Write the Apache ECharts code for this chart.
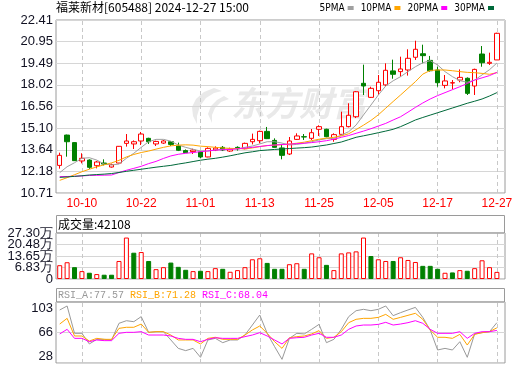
<!DOCTYPE html>
<html><head><meta charset="utf-8">
<script src="https://cdn.jsdelivr.net/npm/echarts@6/dist/echarts.min.js"></script>
<style>html,body{margin:0;padding:0;background:#fff}#c{width:520px;height:365px}</style>
</head><body><div id="c"></div>
<script>
const title = '福莱新材[605488] 2024-12-27 15:00';
const dates = ['09-30','10-08','10-09','10-10','10-11','10-14','10-15','10-16','10-17','10-18','10-21','10-22','10-23','10-24','10-25','10-28','10-29','10-30','10-31','11-01','11-04','11-05','11-06','11-07','11-08','11-11','11-12','11-13','11-14','11-15','11-18','11-19','11-20','11-21','11-22','11-25','11-26','11-27','11-28','11-29','12-02','12-03','12-04','12-05','12-06','12-09','12-10','12-11','12-12','12-13','12-16','12-17','12-18','12-19','12-20','12-23','12-24','12-25','12-26','12-27'];
const labelDates = ['10-10','10-22','11-01','11-13','11-25','12-05','12-17','12-27'];
const opens  = [12.58,14.63,14.12,12.88,12.94,12.56,12.74,12.47,12.74,14.07,14.03,14.23,14.41,14.03,14.09,14.18,13.89,13.58,13.51,13.49,13.15,13.62,13.80,13.55,13.80,13.71,14.18,14.25,14.88,14.27,13.76,13.35,14.34,14.52,14.41,15.02,15.02,14.34,14.68,15.20,15.87,18.13,17.18,17.63,18.02,18.97,18.92,19.03,19.89,20.13,19.68,19.03,17.99,18.15,18.35,18.47,17.95,20.11,19.48,19.71];
const closes = [13.26,14.18,12.90,13.06,12.45,12.81,12.67,12.63,13.87,14.23,14.18,14.70,14.18,14.20,14.23,14.00,13.60,13.44,13.62,13.15,13.73,13.75,13.62,13.68,13.70,14.07,14.34,14.88,14.39,13.80,13.26,14.23,14.57,14.50,14.79,15.20,14.52,14.66,15.20,15.97,17.56,17.95,17.79,18.20,19.01,18.74,19.10,19.82,20.43,20.00,18.98,18.17,18.29,18.17,18.53,17.45,19.07,19.52,19.55,21.51];
const lows   = [12.36,13.17,12.88,12.72,12.34,12.38,12.58,12.43,12.72,13.85,13.69,13.96,14.03,13.89,14.03,13.89,13.55,13.42,13.35,13.06,13.13,13.55,13.55,13.49,13.58,13.67,14.00,14.07,14.36,13.78,12.99,13.28,14.30,14.30,14.30,14.57,14.48,14.18,14.61,15.15,15.78,17.34,17.14,17.34,17.95,18.44,18.58,18.65,19.71,19.48,18.92,17.90,17.79,17.72,18.20,17.34,17.34,19.25,19.37,19.71];
const highs  = [13.44,14.66,14.14,13.40,12.99,12.88,12.99,12.70,13.89,14.70,14.27,14.84,14.45,14.25,14.30,14.21,14.12,13.66,13.71,13.55,13.80,13.87,13.89,13.78,13.87,14.12,14.73,14.93,15.18,14.41,13.96,14.50,14.75,14.70,15.04,15.29,15.06,14.75,16.21,16.78,17.61,19.39,17.90,18.69,19.48,19.73,19.93,20.43,21.01,20.74,19.98,19.25,18.69,18.35,19.07,18.53,19.12,20.65,20.20,21.55];
const ma5  = [12.09,12.49,12.76,13.06,13.10,12.94,12.67,12.61,12.67,13.06,13.40,13.80,14.18,14.34,14.34,14.22,13.96,13.80,13.67,13.55,13.55,13.62,13.67,13.69,13.71,13.80,13.89,14.03,14.18,14.18,14.09,13.96,14.00,14.07,14.18,14.30,14.39,14.41,14.63,14.86,15.31,15.99,16.66,17.34,17.95,18.30,18.58,18.92,19.25,19.52,19.66,19.37,18.92,18.58,18.31,18.20,18.35,18.70,19.05,19.50];
const ma10 = [11.57,11.75,11.95,12.15,12.32,12.48,12.62,12.75,12.92,13.15,13.32,13.45,13.55,13.68,13.80,13.90,13.95,13.97,13.95,13.88,13.85,13.80,13.76,13.73,13.72,13.70,13.76,13.85,13.92,13.95,13.98,14.02,14.08,14.15,14.25,14.35,14.42,14.48,14.57,14.72,15.00,15.30,15.62,16.00,16.45,16.90,17.34,17.79,18.24,18.75,19.00,19.03,19.03,18.98,18.92,18.87,18.85,18.80,18.74,18.85];
const ma20 = [11.82,11.83,11.84,11.87,11.90,11.91,11.92,11.93,12.10,12.25,12.38,12.52,12.70,12.85,13.05,13.22,13.33,13.40,13.45,13.51,13.56,13.61,13.64,13.66,13.70,13.75,13.80,13.86,13.92,13.96,13.99,14.02,14.05,14.08,14.12,14.18,14.25,14.35,14.48,14.60,14.75,14.90,15.06,15.24,15.42,15.65,15.87,16.18,16.50,16.80,17.07,17.30,17.50,17.70,17.90,18.12,18.35,18.50,18.65,18.87];
const ma30 = [11.77,11.80,11.84,11.88,11.93,11.96,11.99,12.03,12.10,12.18,12.25,12.32,12.39,12.46,12.52,12.58,12.67,12.75,12.84,12.93,13.00,13.06,13.14,13.23,13.33,13.43,13.50,13.58,13.62,13.66,13.69,13.72,13.75,13.78,13.82,13.89,13.96,14.06,14.16,14.32,14.48,14.58,14.68,14.79,14.90,15.02,15.20,15.42,15.65,15.82,15.98,16.14,16.30,16.46,16.62,16.78,16.92,17.07,17.27,17.50];
const volumes = [81900,99500,70200,46800,37100,29300,25400,25400,107000,246000,156000,160000,107000,58500,70200,97500,72200,54600,46800,48800,46800,64400,60500,42900,52700,70200,117000,123000,95600,60500,60500,87800,93600,60500,152000,129000,83900,52700,152000,158000,164000,246000,136500,117000,107000,107000,129000,113000,101000,78000,78000,60500,37000,39000,52700,48800,64400,111000,70200,42108];
const rsiA = [93.2,98.1,64.5,64.5,51.4,57.1,57.1,56.3,76.8,80.0,78.8,85.0,65.7,66.5,66.5,56.3,46.0,43.2,46.0,35.0,56.3,58.3,53.0,56.3,56.3,62.4,74.7,87.0,64.5,48.1,32.5,58.3,64.5,63.7,69.4,75.5,53.0,57.1,69.4,85.0,92.3,94.0,92.3,94.0,98.1,86.2,89.9,93.2,96.4,84.1,68.6,44.0,46.0,44.0,54.2,35.0,63.7,65.3,66.5,77.57];
const rsiB = [75.9,82.9,61.2,61.2,55.0,58.3,57.1,57.1,70.6,71.9,71.9,75.9,65.7,66.5,66.5,62.4,56.3,56.3,56.3,51.4,58.3,59.6,57.1,57.1,57.1,62.4,68.6,73.5,64.5,54.2,46.0,59.1,60.4,61.2,63.7,67.8,58.3,59.6,66.5,77.6,81.7,82.9,82.9,84.1,87.8,81.7,84.1,86.6,89.1,81.7,68.6,59.6,59.6,58.3,63.2,50.1,63.2,65.3,66.5,71.28];
const rsiC = [63.7,69.4,58.3,58.3,54.2,56.3,55.5,55.5,64.5,65.7,65.7,66.5,62.4,62.4,62.4,61.2,58.3,57.1,57.1,54.2,57.1,59.1,58.3,58.3,58.3,60.4,62.4,65.3,61.2,56.3,51.4,58.3,59.1,59.6,62.4,64.5,59.6,59.6,62.4,69.4,73.5,74.7,74.7,75.5,78.0,74.7,75.9,77.6,80.0,76.8,69.4,64.5,64.5,64.5,66.5,58.3,64.5,66.5,66.5,68.04];
const priceRange = [10.714, 22.41];   // 8 equal steps
const volumeRange = [0, 273000];      // 4 equal steps
const rsiRange = [28, 103];           // 2 equal steps
const maNames = ['5PMA','10PMA','20PMA','30PMA'];
const maColors = ['#a0a0a0','#ffa500','#ff00ff','#00693a'];

const RED = '#ff0000', GREEN = '#008000';
const L = 56, W_DATA = 444.6, W_FRAME = 449;
const FRAME = '#9a9a9a', SPLIT = '#d6d6d6', DASH = '#c8c8c8';
const labelFont = 'Liberation Sans';

const chart = echarts.init(document.getElementById('c'), null, {renderer: 'canvas'});

function vLines() {
  return {silent: true, symbol: ['none','none'], z: 1, animation: false,
    label: {show: false}, emphasis: {disabled: true},
    lineStyle: {type: [4,3], color: DASH, width: 1},
    data: labelDates.map(d => ({xAxis: d}))};
}
function catAxis(g, showLabel) {
  return {type: 'category', gridIndex: g, data: dates, boundaryGap: true,
    axisLine: {show: false}, axisTick: {show: false}, splitLine: {show: false},
    axisLabel: showLabel ? {interval: (i, v) => labelDates.indexOf(v) >= 0, color: RED,
      fontSize: 12, fontFamily: labelFont, margin: 5} : {show: false}};
}
function hiddenVal(g) { return {type: 'value', gridIndex: g, min: 0, max: 1, show: false}; }

const candleData = dates.map((d, i) => [opens[i], closes[i], lows[i], highs[i]]);
const volData = volumes.map((v, i) => {
  const up = i === 0 || closes[i] >= closes[i - 1];
  return {value: v, itemStyle: up ? {color: '#ffffff', borderColor: RED, borderWidth: 1}
                                  : {color: GREEN, borderColor: GREEN, borderWidth: 1}};
});
const mas = [ma5, ma10, ma20, ma30];

const yLabel = {color: '#111122', fontSize: 13, fontFamily: labelFont, margin: 3,
  showMinLabel: true, showMaxLabel: true, hideOverlap: false};
const volStep = (volumeRange[1] - volumeRange[0]) / 4;
const volFmt = v => v === 0 ? '0' : (Math.round(v / 100) / 100).toFixed(2) + '万';

const option = {
  animation: false,
  backgroundColor: '#ffffff',
  title: {text: title, left: 56, top: 0, padding: [1, 0, 0, 0],
    textStyle: {fontSize: 12, fontWeight: 'normal', color: '#000', fontFamily: 'Noto Sans CJK SC'}},
  legend: {data: maNames, right: 26, top: 3, padding: 0, align: 'right', icon: 'rect',
    itemWidth: 6, itemHeight: 4, itemGap: 7, selectedMode: false,
    textStyle: {fontSize: 10, fontFamily: 'DejaVu Sans Condensed', color: '#000', padding: [0, -2, 0, 0]}},
  grid: [
    {left: L, top: 20, width: W_DATA, height: 173},
    {left: L, top: 20, width: W_FRAME, height: 173, show: true, borderColor: FRAME, borderWidth: 1, backgroundColor: 'transparent'},
    {left: L, top: 233, width: W_DATA, height: 46},
    {left: L, top: 233, width: W_FRAME, height: 46, show: true, borderColor: FRAME, borderWidth: 1, backgroundColor: 'transparent'},
    {left: L, top: 302, width: W_DATA, height: 61},
    {left: L, top: 302, width: W_FRAME, height: 61, show: true, borderColor: FRAME, borderWidth: 1, backgroundColor: 'transparent'}
  ],
  xAxis: [catAxis(0, true), hiddenVal(1), catAxis(2, false), hiddenVal(3), catAxis(4, false), hiddenVal(5)],
  yAxis: [
    {type: 'value', gridIndex: 0, min: priceRange[0], max: priceRange[1], show: false},
    {type: 'value', gridIndex: 1, min: priceRange[0], max: priceRange[1], interval: (priceRange[1] - priceRange[0]) / 8,
      axisLine: {show: false}, axisTick: {show: false},
      axisLabel: Object.assign({formatter: v => v.toFixed(2)}, yLabel),
      splitLine: {lineStyle: {color: SPLIT, width: 1}}},
    {type: 'value', gridIndex: 2, min: volumeRange[0], max: volumeRange[1], show: true,
      axisLine: {show: false}, axisTick: {show: false}, splitLine: {show: false},
      axisLabel: Object.assign({formatter: volFmt, customValues: [volStep, 3 * volStep]}, yLabel, {padding: [0, 0, 5, 0]})},
    {type: 'value', gridIndex: 3, min: volumeRange[0], max: volumeRange[1], interval: volStep,
      axisLine: {show: false}, axisTick: {show: false},
      axisLabel: Object.assign({formatter: volFmt, customValues: [0, 2 * volStep, 4 * volStep]}, yLabel, {padding: [0, 0, 5, 0]}),
      splitLine: {lineStyle: {color: SPLIT, width: 1}}},
    {type: 'value', gridIndex: 4, min: rsiRange[0], max: rsiRange[1], show: false},
    {type: 'value', gridIndex: 5, min: rsiRange[0], max: rsiRange[1], interval: (rsiRange[1] - rsiRange[0]) / 2,
      axisLine: {show: false}, axisTick: {show: false},
      axisLabel: Object.assign({formatter: v => String(Math.round(v)),
        verticalAlignMaxLabel: 'top', verticalAlignMinLabel: 'bottom'}, yLabel),
      splitLine: {lineStyle: {color: SPLIT, width: 1}}}
  ],
  graphic: [
    {type: 'polygon', z: -1, silent: true,
      shape: {points: [[214,88],[204,92],[196,99],[192,107],[193,116],[197,124],[197,116],[200,106],[206,98],[214,93],[222,91]]},
      style: {fill: '#e9e9e9'}},
    {type: 'polygon', z: -1, silent: true,
      shape: {points: [[224,96],[217,100],[211,106],[208,114],[212,123],[212,115],[215,108],[221,102],[229,99]]},
      style: {fill: '#e9e9e9'}},
    {type: 'text', left: 231, top: 86, z: -1, silent: true,
      style: {text: '东方财富', fill: '#e9e9e9', font: 'italic bold 34px "Noto Sans CJK SC"'}},
    {type: 'rect', shape: {x: 56.5, y: 215.5, width: 448, height: 17.5}, z: 5, silent: true,
      style: {fill: 'none', stroke: FRAME, lineWidth: 1}},
    {type: 'text', x: 58, y: 224, z: 6, silent: true,
      style: {text: '成交量:' + volumes[volumes.length - 1], fill: '#000', font: '12px "Noto Sans CJK SC"', verticalAlign: 'middle'}},
    {type: 'rect', shape: {x: 56.5, y: 288.5, width: 448, height: 13.5}, z: 5, silent: true,
      style: {fill: 'none', stroke: FRAME, lineWidth: 1}},
    {type: 'text', x: 58, y: 295.5, z: 6, silent: true,
      style: {text: '{a|RSI_A:' + rsiA[rsiA.length - 1].toFixed(2) + '} {b|RSI_B:' + rsiB[rsiB.length - 1].toFixed(2) + '} {c|RSI_C:' + rsiC[rsiC.length - 1].toFixed(2) + '}',
        font: '10px "Liberation Mono"', verticalAlign: 'middle',
        rich: {a: {fill: '#999999', font: '10px "Liberation Mono"'}, b: {fill: '#ffa500', font: '10px "Liberation Mono"'}, c: {fill: '#ff00ff', font: '10px "Liberation Mono"'}}}}
  ],
  series: [
    {type: 'candlestick', name: 'K', xAxisIndex: 0, yAxisIndex: 0, data: candleData, barWidth: 5, z: 3,
      emphasis: {disabled: true},
      itemStyle: {color: '#ffffff', color0: GREEN, borderColor: RED, borderColor0: GREEN, borderWidth: 1},
      markLine: vLines()},
    ...maNames.map((n, k) => ({type: 'line', name: n, xAxisIndex: 0, yAxisIndex: 0, data: mas[k],
      showSymbol: false, symbol: 'none', z: 4, color: maColors[k], lineStyle: {width: 1, color: maColors[k]}, emphasis: {disabled: true}})),
    {type: 'bar', name: 'VOL', xAxisIndex: 2, yAxisIndex: 2, data: volData, barWidth: 5, z: 3,
      emphasis: {disabled: true}, markLine: vLines()},
    {type: 'line', name: 'RSI_A', xAxisIndex: 4, yAxisIndex: 4, data: rsiA, symbol: 'none', z: 3, clip: false,
      lineStyle: {width: 1, color: '#999999'}, emphasis: {disabled: true}, markLine: vLines()},
    {type: 'line', name: 'RSI_B', xAxisIndex: 4, yAxisIndex: 4, data: rsiB, symbol: 'none', z: 3, clip: false,
      lineStyle: {width: 1, color: '#ffa500'}, emphasis: {disabled: true}},
    {type: 'line', name: 'RSI_C', xAxisIndex: 4, yAxisIndex: 4, data: rsiC, symbol: 'none', z: 3, clip: false,
      lineStyle: {width: 1, color: '#ff00ff'}, emphasis: {disabled: true}}
  ]
};
chart.setOption(option);
</script></body></html>
